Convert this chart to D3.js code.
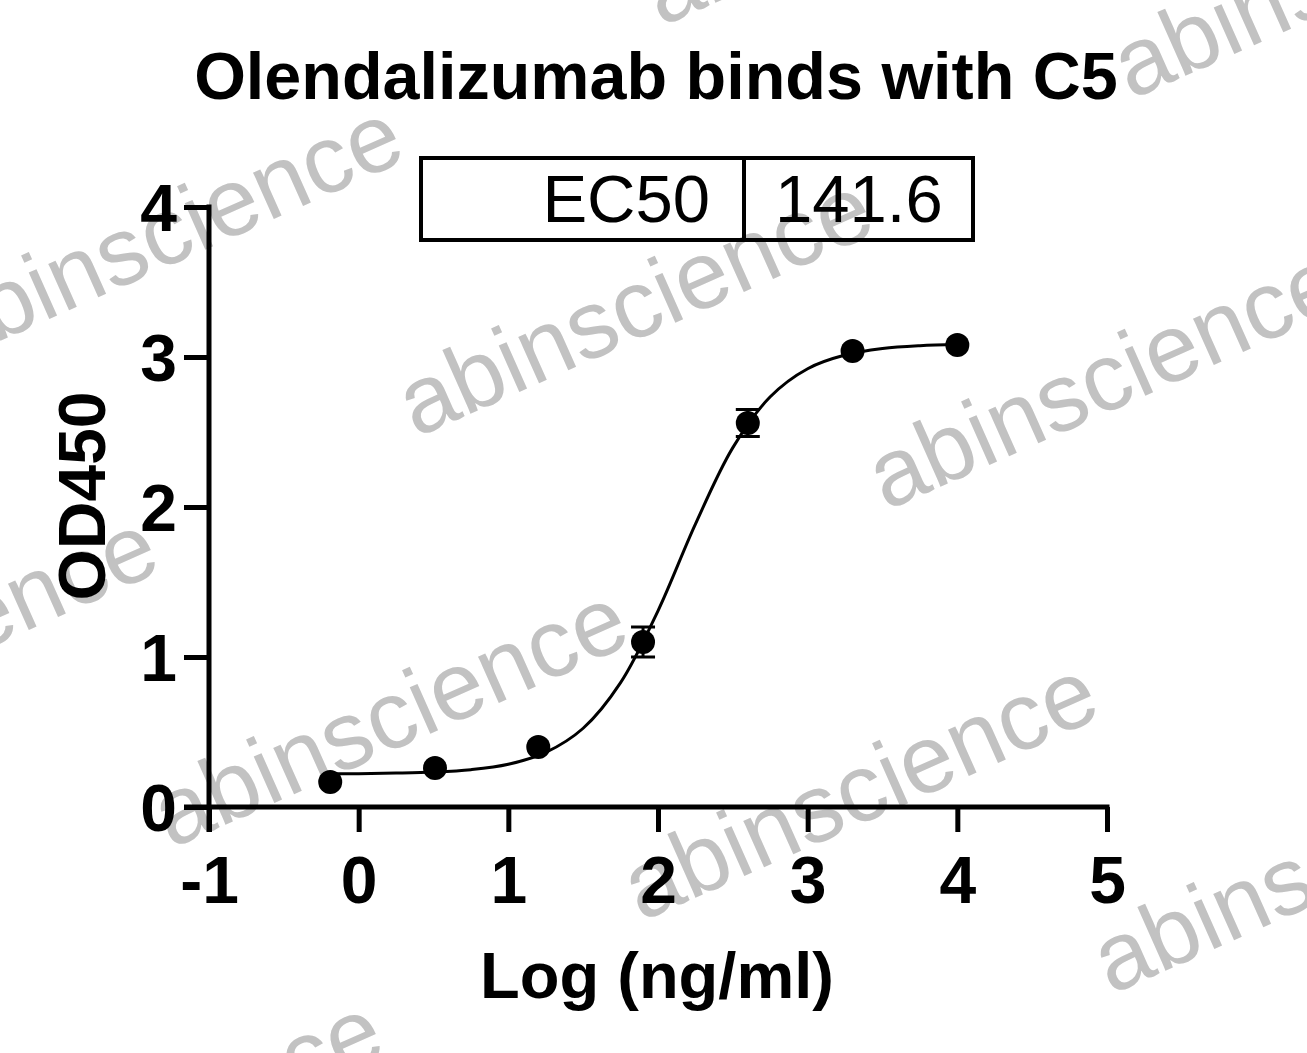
<!DOCTYPE html>
<html>
<head>
<meta charset="utf-8">
<script src="https://cdn.jsdelivr.net/npm/d3@7"></script>
<style>
  html, body { margin: 0; padding: 0; background: #fff; }
  svg { display: block; }
  text { font-family: Arial, "Liberation Sans", Helvetica, sans-serif; }
</style>
</head>
<body>
<svg id="chart" width="1307" height="1053"></svg>
<script>
// ---- data ----
const title = "Olendalizumab binds with C5";
const xLabel = "Log (ng/ml)";
const yLabel = "OD450";
const xTicks = [-1, 0, 1, 2, 3, 4, 5];
const yTicks = [0, 1, 2, 3, 4];
const logConc = [-0.19, 0.51, 1.20, 1.90, 2.60, 3.30, 4.00];
const od450   = [0.167, 0.26, 0.40, 1.10, 2.56, 3.04, 3.08];
const sem     = [0.01, 0.01, 0.01, 0.10, 0.09, 0.01, 0.01];
// fitted curve
const curveX = [-0.19, 0, 0.25, 0.5, 0.75, 1.0, 1.25, 1.5, 1.75, 2.0, 2.25, 2.5, 2.75, 3.0, 3.25, 3.5, 3.75, 4.0];
const curveY = [0.221, 0.222, 0.226, 0.233, 0.249, 0.285, 0.364, 0.525, 0.829, 1.308, 1.886, 2.396, 2.735, 2.922, 3.013, 3.056, 3.075, 3.083];
const ec50Label = "EC50";
const ec50Value = "141.6";
const watermark = "abinscience";

const svg = d3.select("#chart");
const W = 1307, H = 1053;
svg.append("rect").attr("width", W).attr("height", H).attr("fill", "#fff");

// ---- watermark (under the chart) ----
const wmG = svg.append("g");
const base = [416, 438], vA = [470, 73], vB = [-245, 411];
for (let i = -3; i <= 3; i++) {
  for (let j = -3; j <= 3; j++) {
    const x = base[0] + i * vA[0] + j * vB[0];
    const y = base[1] + i * vA[1] + j * vB[1];
    if (x < -700 || x > W + 100 || y < -100 || y > H + 400) continue;
    wmG.append("text")
      .attr("transform", `translate(${x},${y}) rotate(-24)`)
      .attr("font-size", 96)
      .attr("fill", "#c2c2c2")
      .text(watermark);
  }
}

// ---- scales ----
const x = d3.scaleLinear().domain([-1, 5]).range([209, 1107]);
const y = d3.scaleLinear().domain([0, 4]).range([807, 207]);

const AX = 5;
// x axis
const gx = svg.append("g").attr("transform", `translate(0,${y(0)})`)
  .call(d3.axisBottom(x).tickValues(xTicks).tickSize(25).tickSizeOuter(0).tickFormat(d3.format("d")));
gx.select(".domain").remove();
gx.selectAll(".tick line").attr("stroke", "#000").attr("stroke-width", AX);
gx.selectAll(".tick text").attr("font-size", 66).attr("font-weight", "bold")
  .attr("fill", "#000").attr("y", 96).attr("dy", 0)
  .text(d => d < 0 ? "-" + Math.abs(d) : d);
// y axis
const gy = svg.append("g").attr("transform", `translate(${x(-1)},0)`)
  .call(d3.axisLeft(y).tickValues(yTicks).tickSize(25).tickSizeOuter(0).tickFormat(d3.format("d")));
gy.select(".domain").remove();
gy.selectAll(".tick line").attr("stroke", "#000").attr("stroke-width", AX);
gy.selectAll(".tick text").attr("font-size", 66).attr("font-weight", "bold")
  .attr("fill", "#000").attr("x", -32).attr("dy", "0.355em");
// axis lines
svg.append("line").attr("x1", x(-1) - 25).attr("x2", x(5) + AX / 2)
  .attr("y1", y(0)).attr("y2", y(0)).attr("stroke", "#000").attr("stroke-width", AX);
svg.append("line").attr("x1", x(-1)).attr("x2", x(-1))
  .attr("y1", y(4) - AX / 2).attr("y2", y(0) + 25).attr("stroke", "#000").attr("stroke-width", AX);

// ---- fitted curve ----
const line = d3.line().x((d, i) => x(curveX[i])).y((d, i) => y(curveY[i])).curve(d3.curveCatmullRom);
svg.append("path").datum(curveX).attr("d", line)
  .attr("fill", "none").attr("stroke", "#000").attr("stroke-width", 3);

// ---- error bars + points ----
const R = 12, CAP = 12;
const pts = logConc.map((d, i) => ({ x: d, y: od450[i], e: sem[i] }));
const eb = svg.append("g").selectAll("g").data(pts.filter(d => (y(0) - y(d.e)) > 2)).join("g");
eb.append("line").attr("x1", d => x(d.x)).attr("x2", d => x(d.x))
  .attr("y1", d => y(d.y + d.e)).attr("y2", d => y(d.y - d.e)).attr("stroke", "#000").attr("stroke-width", 3);
eb.append("line").attr("x1", d => x(d.x) - CAP).attr("x2", d => x(d.x) + CAP)
  .attr("y1", d => y(d.y + d.e)).attr("y2", d => y(d.y + d.e)).attr("stroke", "#000").attr("stroke-width", 3)
  .attr("display", d => (y(0) - y(d.e)) > R - 1 ? null : "none");
eb.append("line").attr("x1", d => x(d.x) - CAP).attr("x2", d => x(d.x) + CAP)
  .attr("y1", d => y(d.y - d.e)).attr("y2", d => y(d.y - d.e)).attr("stroke", "#000").attr("stroke-width", 3)
  .attr("display", d => (y(0) - y(d.e)) > R - 1 ? null : "none");
svg.append("g").selectAll("circle").data(pts).join("circle")
  .attr("cx", d => x(d.x)).attr("cy", d => y(d.y)).attr("r", R).attr("fill", "#000");

// ---- titles ----
svg.append("text").attr("x", 656).attr("y", 99).attr("text-anchor", "middle")
  .attr("font-size", 66.5).attr("font-weight", "bold").attr("fill", "#000").text(title);
svg.append("text").attr("x", 657).attr("y", 998).attr("text-anchor", "middle")
  .attr("font-size", 65).attr("font-weight", "bold").attr("fill", "#000").text(xLabel);
svg.append("text").attr("transform", "translate(105,496) rotate(-90)").attr("text-anchor", "middle")
  .attr("font-size", 66).attr("font-weight", "bold").attr("fill", "#000").text(yLabel);

// ---- EC50 box ----
const box = svg.append("g");
box.append("rect").attr("x", 421).attr("y", 158).attr("width", 552).attr("height", 82)
  .attr("fill", "none").attr("stroke", "#000").attr("stroke-width", 4);
box.append("line").attr("x1", 744).attr("x2", 744).attr("y1", 158).attr("y2", 240)
  .attr("stroke", "#000").attr("stroke-width", 4);
box.append("text").attr("x", 710).attr("y", 222).attr("text-anchor", "end")
  .attr("font-size", 67).attr("fill", "#000").text(ec50Label);
box.append("text").attr("x", 775).attr("y", 222).attr("text-anchor", "start")
  .attr("font-size", 67).attr("fill", "#000").text(ec50Value);
</script>
</body>
</html>
